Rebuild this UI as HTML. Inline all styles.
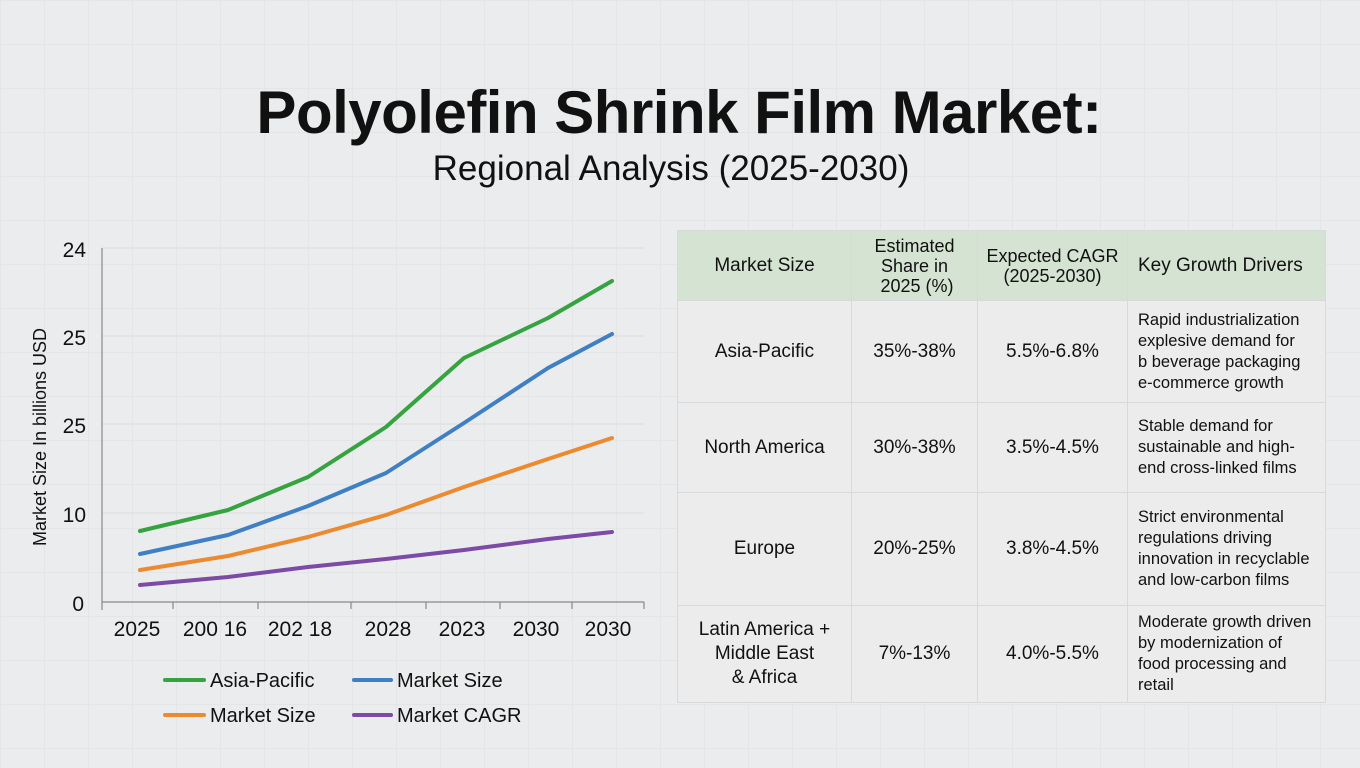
<!DOCTYPE html>
<html><head><meta charset="utf-8"><style>
body{margin:0;width:1360px;height:768px;overflow:hidden;background:#ebeced;font-family:"Liberation Sans",sans-serif;position:relative;color:#111}
.bg{position:absolute;inset:0;background-image:linear-gradient(#e2e3e4 1px,transparent 1px),linear-gradient(90deg,#e2e3e4 1px,transparent 1px);background-size:44px 44px;opacity:.7}
h1{position:absolute;top:78px;left:0;width:1358px;text-align:center;margin:0;font-size:60px;font-weight:bold;letter-spacing:-0.5px}
h2{position:absolute;top:149px;left:0;width:1342px;text-align:center;margin:0;font-size:35px;font-weight:normal}
table{position:absolute;left:677px;top:230px;border-collapse:collapse;font-size:19px;table-layout:fixed}
td{border:1px solid #d8d9da;text-align:center;background:#ececec;padding:0}
tr.h td{background:#d5e3d2;font-size:18px;line-height:20px}
td.d{text-align:left;padding-left:10px;font-size:16.5px;line-height:21px;white-space:nowrap}
</style></head><body>
<div class="bg"></div>
<h1>Polyolefin Shrink Film Market:</h1>
<h2>Regional Analysis (2025-2030)</h2>
<svg style="position:absolute;left:0;top:0" width="680" height="768">
<g stroke="#dcdddf" stroke-width="1"><line x1="102" y1="248" x2="644" y2="248"/><line x1="102" y1="336" x2="644" y2="336"/><line x1="102" y1="424" x2="644" y2="424"/><line x1="102" y1="513" x2="644" y2="513"/></g>
<g stroke="#888" stroke-width="1.2"><line x1="102" y1="248" x2="102" y2="610"/><line x1="102" y1="602" x2="644" y2="602"/>
<line x1="173" y1="602" x2="173" y2="609"/><line x1="258" y1="602" x2="258" y2="609"/><line x1="351" y1="602" x2="351" y2="609"/><line x1="426" y1="602" x2="426" y2="609"/><line x1="500" y1="602" x2="500" y2="609"/><line x1="572" y1="602" x2="572" y2="609"/><line x1="644" y1="602" x2="644" y2="609"/></g>
<g font-size="21" text-anchor="end" fill="#111"><text x="86" y="257">24</text><text x="86" y="345">25</text><text x="86" y="433">25</text><text x="86" y="522">10</text><text x="84" y="611">0</text></g>
<g font-size="21" text-anchor="middle" fill="#111"><text x="137" y="636">2025</text><text x="215" y="636">200 16</text><text x="300" y="636">202  18</text><text x="388" y="636">2028</text><text x="462" y="636">2023</text><text x="536" y="636">2030</text><text x="608" y="636">2030</text></g>
<text transform="translate(46,437) rotate(-90)" font-size="18" text-anchor="middle" fill="#111">Market Size In billions USD</text>
<g fill="none" stroke-width="4" stroke-linecap="round" stroke-linejoin="round">
<polyline stroke="#34a340" points="140,531 228,510 308,477 386,427 464,358 548,318 612,281"/>
<polyline stroke="#3f7fc4" points="140,554 228,535 308,506 386,473 464,423 548,368 612,334"/>
<polyline stroke="#ec8a2f" points="140,570 228,556 308,537 386,515 464,487 548,459 612,438"/>
<polyline stroke="#7d4aa5" points="140,585 228,577 308,567 386,559 464,550 548,539 612,532"/>
</g>
<g stroke-width="4" stroke-linecap="round"><line x1="165" y1="680" x2="204" y2="680" stroke="#34a340"/><line x1="354" y1="680" x2="391" y2="680" stroke="#3f7fc4"/><line x1="165" y1="715" x2="204" y2="715" stroke="#ec8a2f"/><line x1="354" y1="715" x2="391" y2="715" stroke="#7d4aa5"/></g>
<g font-size="20" fill="#111"><text x="210" y="687">Asia-Pacific</text><text x="397" y="687">Market  Size</text><text x="210" y="722">Market Size</text><text x="397" y="722">Market CAGR</text></g>
</svg>
<table>
<colgroup><col style="width:174px"><col style="width:126px"><col style="width:150px"><col style="width:198px"></colgroup>
<tr class="h" style="height:70px"><td style="font-size:19px">Market Size</td><td>Estimated<br>Share in<br>&nbsp;2025 (%)</td><td>Expected CAGR<br>(2025-2030)</td><td class="d" style="font-size:19px">Key Growth Drivers</td></tr>
<tr style="height:102px"><td>Asia-Pacific</td><td>35%-38%</td><td>5.5%-6.8%</td><td class="d">Rapid industrialization<br>explesive demand for<br>b&nbsp;beverage packaging<br>e-commerce growth</td></tr>
<tr style="height:90px"><td>North America</td><td>30%-38%</td><td>3.5%-4.5%</td><td class="d">Stable demand for<br>sustainable and high-<br>end cross-linked films</td></tr>
<tr style="height:113px"><td>Europe</td><td>20%-25%</td><td>3.8%-4.5%</td><td class="d">Strict environmental<br>regulations driving<br>innovation in recyclable<br>and low-carbon films</td></tr>
<tr style="height:97px"><td style="line-height:24px">Latin America +<br>Middle East<br>&amp; Africa</td><td>7%-13%</td><td>4.0%-5.5%</td><td class="d">Moderate growth driven<br>by modernization of<br>food processing and<br>retail</td></tr>
</table>
</body></html>
